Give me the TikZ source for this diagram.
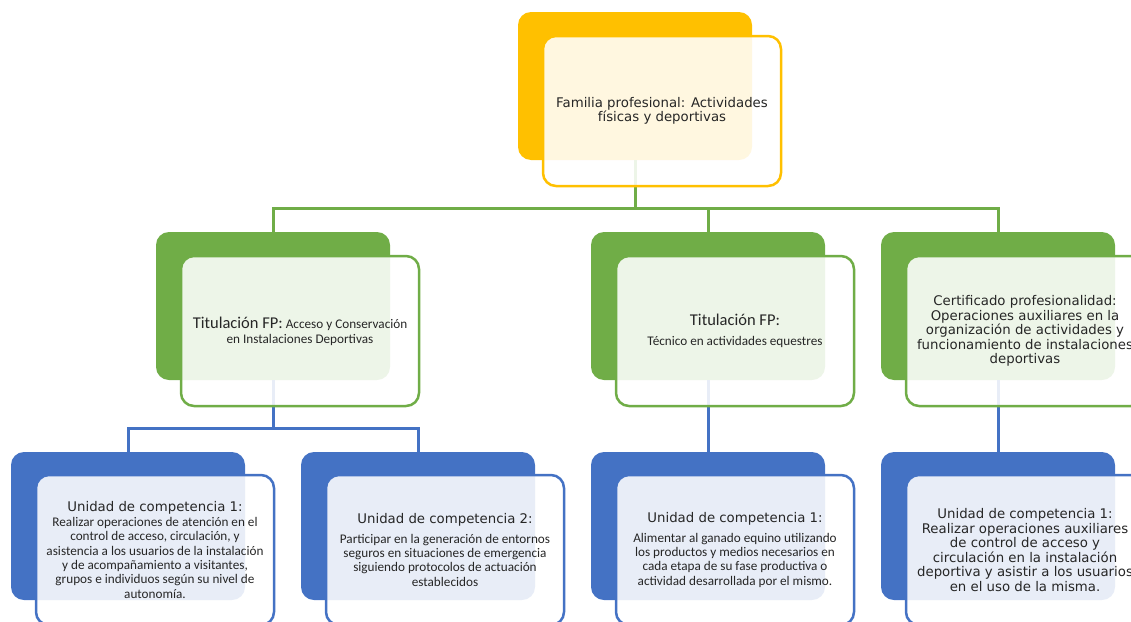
\documentclass[tikz,border=0pt]{standalone}
\usepackage{fontspec}
\newfontfamily\verdfont{DejaVu Sans}
\newfontfamily\calfont{Carlito}
\newcommand{\verdtxt}{\verdfont\fontsize{13.3}{14.5}\selectfont}
\newcommand{\caltxt}{\calfont\fontsize{13.2}{14.4}\selectfont}
\newcommand{\caltitle}{\calfont\fontsize{16.5}{15}\selectfont}
\definecolor{famyellow}{HTML}{FFC000}
\definecolor{titgreen}{HTML}{70AD47}
\definecolor{uniblue}{HTML}{4472C4}
\begin{document}
\begin{tikzpicture}[x=1pt,y=-1pt]
		\tikzset{back/.style = {shape=rectangle, rounded corners=13pt, fill=#1, minimum width=234pt, minimum height=148pt, inner sep=0pt},
			front/.style = {shape=rectangle, rounded corners=13pt, draw=#1, line width=2.5pt, fill=white, fill opacity=0.88, text opacity=1, minimum width=238pt, minimum height=150pt, inner sep=0pt, align=center, text=black!85},
			link/.style = {draw=#1, line width=3pt}}

		\useasboundingbox (0,0) rectangle (1131,621);
		\clip (0,0) rectangle (1131,621);

		\node[back=famyellow] (F_b) at (635,86) {};

		\node[back=titgreen] (T_1b) at (273,306) {};
		\node[back=titgreen] (T_2b) at (708,306) {};
		\node[back=titgreen] (T_3b) at (998,306) {};

		\node[back=uniblue] (U_1b) at (128,526) {};
		\node[back=uniblue] (U_2b) at (418,526) {};
		\node[back=uniblue] (U_3b) at (708,526) {};
		\node[back=uniblue] (U_4b) at (998,526) {};


		\draw[link=titgreen] (F_b.south) -- ++(0,48) -| (T_1b.north);
		\draw[link=titgreen] (F_b.south) -- ++(0,48) -| (T_2b.north);
		\draw[link=titgreen] (F_b.south) -- ++(0,48) -| (T_3b.north);

		\draw[link=uniblue] (T_1b.south) -- ++(0,48) -| (U_1b.north);
		\draw[link=uniblue] (T_1b.south) -- ++(0,48) -| (U_2b.north);
		\draw[link=uniblue] (T_2b.south) -- (U_3b.north);
		\draw[link=uniblue] (T_3b.south) -- (U_4b.north);


		\node[front=famyellow, font=\verdfont\fontsize{13.3}{13.5}\selectfont] (F) at (662,111)
			{Familia profesional: Actividades\\ físicas y deportivas};

		\node[front=titgreen, font=\calfont\fontsize{13.2}{15}\selectfont] (T_1) at (300,331)
			{{\caltitle Titulación FP:} Acceso y Conservación\\ en Instalaciones Deportivas};
		\node[front=titgreen, font=\caltxt] (T_2) at (735,331)
			{{\caltitle Titulación FP:}\\[5pt] Técnico en actividades equestres};
		\node[front=titgreen, font=\verdtxt] (T_3) at (1025,331)
			{Certificado profesionalidad:\\ Operaciones auxiliares en la\\ organización de actividades y\\ funcionamiento de instalaciones\\ deportivas};

		\node[front=uniblue, font=\caltxt] (U_1) at (155,550)
			{{\verdtxt Unidad de competencia 1:}\\ Realizar operaciones de atención en el\\ control de acceso, circulación, y\\ asistencia a los usuarios de la instalación\\ y de acompañamiento a visitantes,\\ grupos e individuos según su nivel de\\ autonomía.};
		\node[front=uniblue, font=\caltxt] (U_2) at (445,550)
			{{\verdtxt Unidad de competencia 2:}\\[5pt] Participar en la generación de entornos\\ seguros en situaciones de emergencia\\ siguiendo protocolos de actuación\\ establecidos};
		\node[front=uniblue, font=\caltxt] (U_3) at (735,550)
			{{\verdtxt Unidad de competencia 1:}\\[5pt] Alimentar al ganado equino utilizando\\ los productos y medios necesarios en\\ cada etapa de su fase productiva o\\ actividad desarrollada por el mismo.};
		\node[front=uniblue, font=\verdtxt] (U_4) at (1025,550)
			{Unidad de competencia 1:\\ Realizar operaciones auxiliares\\ de control de acceso y\\ circulación en la instalación\\ deportiva y asistir a los usuarios\\ en el uso de la misma.};

	\end{tikzpicture}
\end{document}
